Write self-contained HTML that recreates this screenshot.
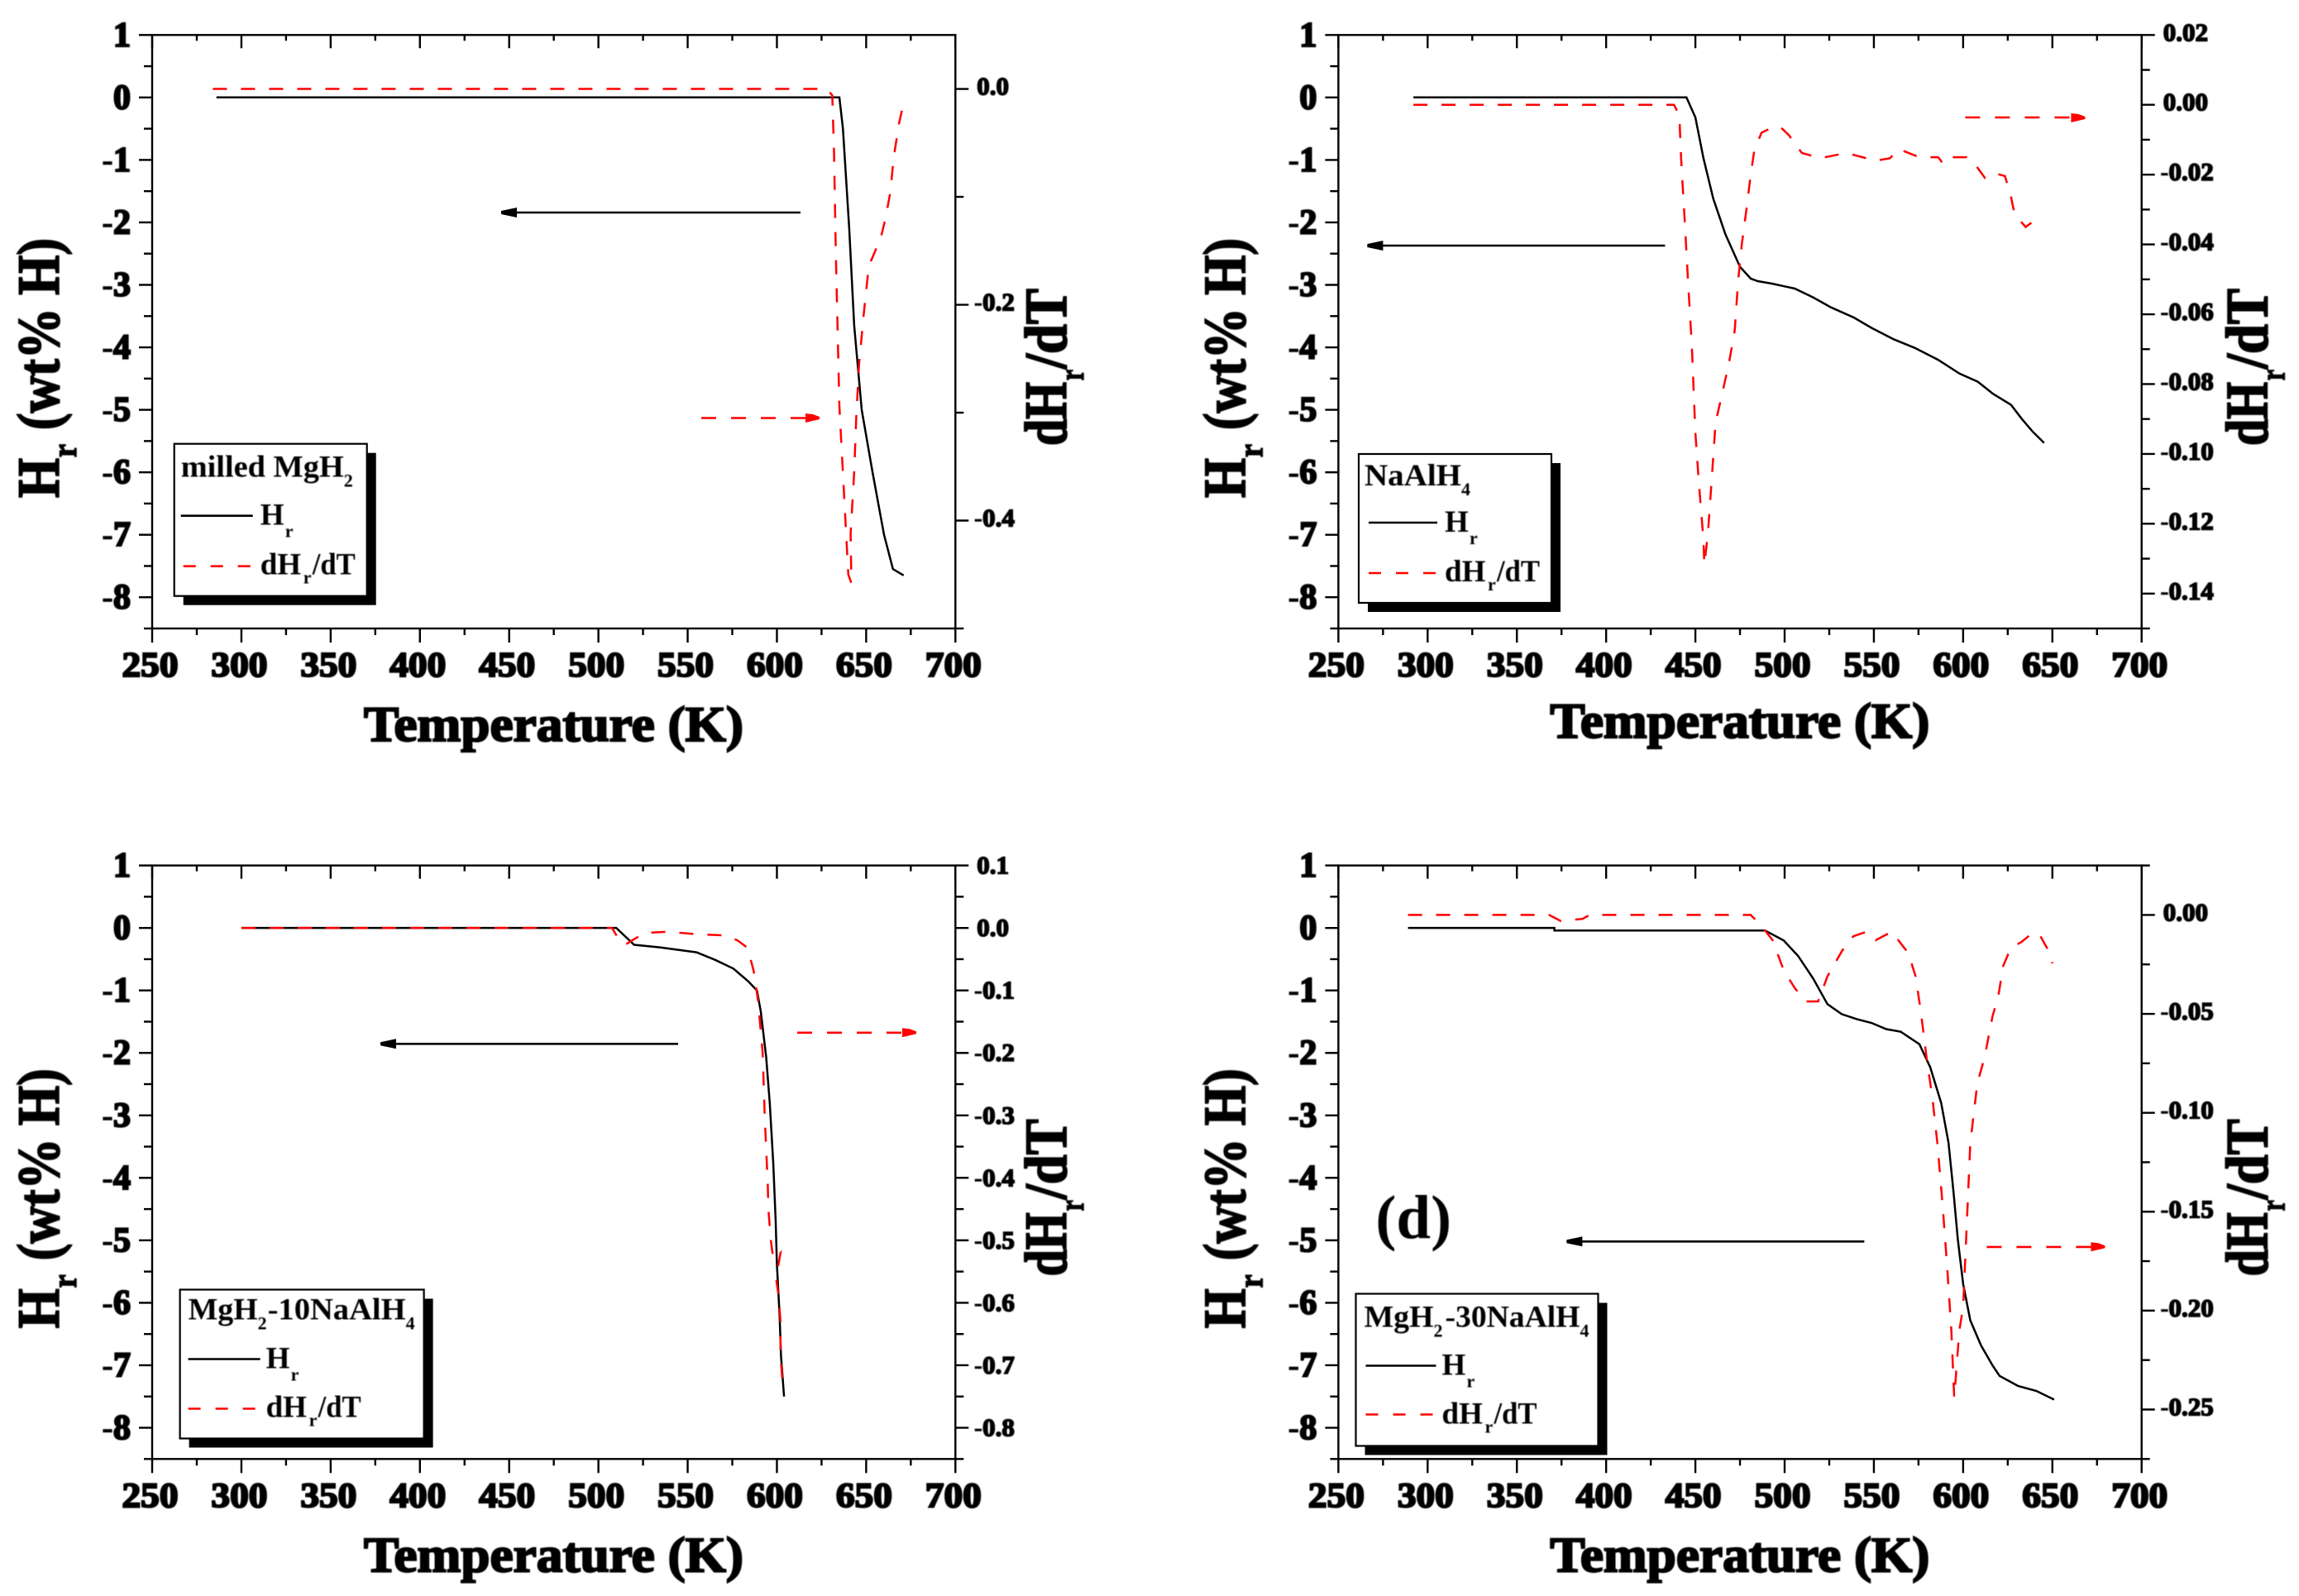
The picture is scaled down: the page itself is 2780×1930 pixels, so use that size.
<!DOCTYPE html>
<html lang="en">
<head>
<meta charset="utf-8">
<title>Hydrogen release curves</title>
<style>
html,body{margin:0;padding:0;background:#fff;}
svg{display:block;font-family:"Liberation Serif",serif;}
text{filter:blur(0.45px);}
.tick-x,.tick-y{font-size:42px;font-weight:bold;stroke:#000;stroke-width:2.2px;}
.tick-r{font-size:31px;font-weight:bold;stroke:#000;stroke-width:1.6px;}
.minus{stroke-width:0.4px;}
.title{font-size:60px;font-weight:bold;stroke:#000;stroke-width:2.2px;}
.title-v{font-size:72px;font-weight:bold;stroke:#000;stroke-width:2px;}
.title-sub{font-size:42px;font-weight:bold;stroke:#000;stroke-width:1.5px;}
.lg{font-size:37px;font-weight:bold;}
.lg-sub{font-size:22px;font-weight:bold;}
.ax{stroke:#000;stroke-width:2.4;fill:none;}
.box{fill:#fff;stroke:#000;stroke-width:2.2;}
.lr{stroke:#f00;stroke-width:2.6;fill:none;}
.lb{stroke:#000;stroke-width:2.6;fill:none;}
</style>
</head>
<body>
<svg id="figure" xmlns="http://www.w3.org/2000/svg" width="2780" height="1930" viewBox="0 0 2780 1930">
<rect width="2780" height="1930" fill="#fff"/>

<g id="panel-a" transform="translate(0,0)">
  <rect class="ax" x="184" y="42.3" width="971.3" height="717.7"/>
  <text class="title" x="440" y="896" textLength="459" lengthAdjust="spacingAndGlyphs">Temperature (K)</text>
  <g transform="translate(71,602) rotate(-90)"><text class="title-v" x="0" y="0" textLength="48" lengthAdjust="spacingAndGlyphs">H</text><text class="title-sub" x="49" y="21" textLength="16" lengthAdjust="spacingAndGlyphs">r</text><text class="title-v" x="82" y="0" textLength="232" lengthAdjust="spacingAndGlyphs">(wt% H)</text></g>
  <g transform="translate(1289,539) rotate(-90)"><text class="title-v" x="0" y="0" textLength="77" lengthAdjust="spacingAndGlyphs">dH</text><text class="title-sub" x="79" y="21" textLength="13" lengthAdjust="spacingAndGlyphs">r</text><text class="title-v" x="93" y="0" textLength="97" lengthAdjust="spacingAndGlyphs">/dT</text></g>
  <g><line class="lb" x1="968" y1="257" x2="606" y2="257"/><polygon points="606,255 625,251 625,263 606,259" fill="#000"/></g>
  <g><line class="lr" x1="848" y1="505.5" x2="990" y2="505.5" stroke-dasharray="18 18"/><polygon points="974,500 983,501 991,504 991,507 974,511" fill="#f00"/></g>
  <g transform="translate(210.7,536.7)">
    <rect x="11" y="11" width="233" height="184" fill="#000"/>
    <rect class="box" x="0" y="0" width="233" height="184"/>
    <text class="lg" x="8" y="40" textLength="197" lengthAdjust="spacingAndGlyphs">milled MgH</text><text class="lg-sub" x="205" y="52">2</text>
    <line class="lb" x1="8" y1="87" x2="95" y2="87"/>
    <text class="lg" x="104" y="98">H</text><text class="lg-sub" x="134" y="113">r</text>
    <line class="lr" x1="11" y1="148" x2="95" y2="148" stroke-dasharray="15 18"/>
    <text class="lg" x="104" y="158">dH</text><text class="lg-sub" x="156" y="169">r</text><text class="lg" x="167" y="158" textLength="52" lengthAdjust="spacingAndGlyphs">/dT</text>
  </g>
</g>

<g id="panel-b" transform="translate(1434.4,0)">
  <rect class="ax" x="184" y="42.3" width="971.3" height="717.7"/>
  <text class="title" x="440" y="892" textLength="459" lengthAdjust="spacingAndGlyphs">Temperature (K)</text>
  <g transform="translate(71,602) rotate(-90)"><text class="title-v" x="0" y="0" textLength="48" lengthAdjust="spacingAndGlyphs">H</text><text class="title-sub" x="49" y="21" textLength="16" lengthAdjust="spacingAndGlyphs">r</text><text class="title-v" x="82" y="0" textLength="232" lengthAdjust="spacingAndGlyphs">(wt% H)</text></g>
  <g transform="translate(1307,539) rotate(-90)"><text class="title-v" x="0" y="0" textLength="77" lengthAdjust="spacingAndGlyphs">dH</text><text class="title-sub" x="79" y="21" textLength="13" lengthAdjust="spacingAndGlyphs">r</text><text class="title-v" x="93" y="0" textLength="97" lengthAdjust="spacingAndGlyphs">/dT</text></g>
  <g><line class="lb" x1="579" y1="297" x2="219" y2="297"/><polygon points="219,295 238,291 238,303 219,299" fill="#000"/></g>
  <g><line class="lr" x1="942" y1="142" x2="1086" y2="142" stroke-dasharray="18 18"/><polygon points="1070,137 1079,138 1087,141 1087,144 1070,148" fill="#f00"/></g>
  <g transform="translate(208.6,549)">
    <rect x="11" y="11" width="233" height="180" fill="#000"/>
    <rect class="box" x="0" y="0" width="233" height="180"/>
    <text class="lg" x="7" y="38" textLength="117" lengthAdjust="spacingAndGlyphs">NaAlH</text><text class="lg-sub" x="124" y="50">4</text>
    <line class="lb" x1="12" y1="83" x2="95" y2="83"/>
    <text class="lg" x="104" y="94">H</text><text class="lg-sub" x="134" y="109">r</text>
    <line class="lr" x1="12" y1="144" x2="95" y2="144" stroke-dasharray="15 18"/>
    <text class="lg" x="104" y="154">dH</text><text class="lg-sub" x="156" y="165">r</text><text class="lg" x="167" y="154" textLength="52" lengthAdjust="spacingAndGlyphs">/dT</text>
  </g>
</g>

<g id="panel-c" transform="translate(0,1004.3)">
  <rect class="ax" x="184" y="42.3" width="971.3" height="717.7"/>
  <text class="title" x="440" y="896" textLength="459" lengthAdjust="spacingAndGlyphs">Temperature (K)</text>
  <g transform="translate(71,602) rotate(-90)"><text class="title-v" x="0" y="0" textLength="48" lengthAdjust="spacingAndGlyphs">H</text><text class="title-sub" x="49" y="21" textLength="16" lengthAdjust="spacingAndGlyphs">r</text><text class="title-v" x="82" y="0" textLength="232" lengthAdjust="spacingAndGlyphs">(wt% H)</text></g>
  <g transform="translate(1289,539) rotate(-90)"><text class="title-v" x="0" y="0" textLength="77" lengthAdjust="spacingAndGlyphs">dH</text><text class="title-sub" x="79" y="21" textLength="13" lengthAdjust="spacingAndGlyphs">r</text><text class="title-v" x="93" y="0" textLength="97" lengthAdjust="spacingAndGlyphs">/dT</text></g>
  <g><line class="lb" x1="820" y1="258" x2="460" y2="258"/><polygon points="460,256 479,252 479,264 460,260" fill="#000"/></g>
  <g><line class="lr" x1="964" y1="244.5" x2="1108" y2="244.5" stroke-dasharray="18 18"/><polygon points="1091,239 1100,240 1108,243 1108,246 1091,250" fill="#f00"/></g>
  <g transform="translate(217.6,555.2)">
    <rect x="11" y="11" width="295" height="180" fill="#000"/>
    <rect class="box" x="0" y="0" width="295" height="180"/>
    <text class="lg" x="10" y="36" textLength="84" lengthAdjust="spacingAndGlyphs">MgH</text><text class="lg-sub" x="94" y="48">2</text><text class="lg" x="106" y="36" textLength="167" lengthAdjust="spacingAndGlyphs">-10NaAlH</text><text class="lg-sub" x="273" y="48">4</text>
    <line class="lb" x1="10" y1="84" x2="97" y2="84"/>
    <text class="lg" x="104" y="95">H</text><text class="lg-sub" x="134" y="110">r</text>
    <line class="lr" x1="10" y1="144" x2="97" y2="144" stroke-dasharray="15 18"/>
    <text class="lg" x="104" y="154">dH</text><text class="lg-sub" x="156" y="165">r</text><text class="lg" x="167" y="154" textLength="52" lengthAdjust="spacingAndGlyphs">/dT</text>
  </g>
</g>

<g id="panel-d" transform="translate(1434.4,1004.3)">
  <rect class="ax" x="184" y="42.3" width="971.3" height="717.7"/>
  <text class="title" x="440" y="896" textLength="459" lengthAdjust="spacingAndGlyphs">Temperature (K)</text>
  <g transform="translate(71,602) rotate(-90)"><text class="title-v" x="0" y="0" textLength="48" lengthAdjust="spacingAndGlyphs">H</text><text class="title-sub" x="49" y="21" textLength="16" lengthAdjust="spacingAndGlyphs">r</text><text class="title-v" x="82" y="0" textLength="232" lengthAdjust="spacingAndGlyphs">(wt% H)</text></g>
  <g transform="translate(1307,539) rotate(-90)"><text class="title-v" x="0" y="0" textLength="77" lengthAdjust="spacingAndGlyphs">dH</text><text class="title-sub" x="79" y="21" textLength="13" lengthAdjust="spacingAndGlyphs">r</text><text class="title-v" x="93" y="0" textLength="97" lengthAdjust="spacingAndGlyphs">/dT</text></g>
  <text x="229" y="493" font-size="75" font-weight="bold" fill="#000">(d)</text>
  <g><line class="lb" x1="820" y1="497" x2="460" y2="497"/><polygon points="460,495 479,491 479,503 460,499" fill="#000"/></g>
  <g><line class="lr" x1="968" y1="503.6" x2="1111" y2="503.6" stroke-dasharray="18 18"/><polygon points="1094,498 1103,499 1111,502 1111,505 1094,509" fill="#f00"/></g>
  <g transform="translate(205.1,560.2)">
    <rect x="11" y="11" width="293" height="184" fill="#000"/>
    <rect class="box" x="0" y="0" width="293" height="184"/>
    <text class="lg" x="10" y="40" textLength="84" lengthAdjust="spacingAndGlyphs">MgH</text><text class="lg-sub" x="94" y="52">2</text><text class="lg" x="108" y="40" textLength="163" lengthAdjust="spacingAndGlyphs">-30NaAlH</text><text class="lg-sub" x="271" y="52">4</text>
    <line class="lb" x1="12" y1="87" x2="97" y2="87"/>
    <text class="lg" x="104" y="98">H</text><text class="lg-sub" x="134" y="113">r</text>
    <line class="lr" x1="12" y1="146" x2="97" y2="146" stroke-dasharray="15 18"/>
    <text class="lg" x="104" y="157">dH</text><text class="lg-sub" x="156" y="168">r</text><text class="lg" x="167" y="157" textLength="52" lengthAdjust="spacingAndGlyphs">/dT</text>
  </g>
</g>
</svg>

<script>
// Shared axis data
const xMajorTicks = [250,300,350,400,450,500,550,600,650,700];
const xMinorTicks = [275,325,375,425,475,525,575,625,675];
const leftMajorTicks = [1,0,-1,-2,-3,-4,-5,-6,-7,-8];
const leftMinorTicks = [0.5,-0.5,-1.5,-2.5,-3.5,-4.5,-5.5,-6.5,-7.5,-8.5];
const xDomain = [250,700];
const leftDomain = [-8.5,1];

// Panel a: milled MgH2
const aRightDomain = [-0.5,0.05];
const aRightMajor = ['0.0','-0.2','-0.4'];
const aRightMinor = [-0.1,-0.3,-0.5];
const aHrT = [286,635,637,640.5,643.3,647.5,653.6,660,665,671];
const aHrV = [0,0,-0.5,-2.1,-3.65,-5.0,-6.0,-7.0,-7.55,-7.65];
const aDhT = [284,628,631,632,633,635,638,640,641.7,641.3,643.3,644.5,646,648.6,651.5,655.6,658.5,661,663.5,665.5,668.4,671];
const aDhV = [0,0,-0.006,-0.058,-0.152,-0.294,-0.388,-0.45,-0.458,-0.412,-0.355,-0.303,-0.256,-0.209,-0.164,-0.148,-0.136,-0.119,-0.096,-0.063,-0.032,-0.013];

// Panel b: NaAlH4
const bRightDomain = [-0.15,0.02];
const bRightMajor = ['0.02','0.00','-0.02','-0.04','-0.06','-0.08','-0.10','-0.12','-0.14'];
const bRightMinor = [0.01,-0.01,-0.03,-0.05,-0.07,-0.09,-0.11,-0.13,-0.15];
const bHrT = [292,445,450,454.5,460,466.8,475,481,485,493,505.7,516,526,538.6,548.8,561,573,586,598,608.2,616.5,626.8,633,639,645.4];
const bHrV = [0,0,-0.32,-0.97,-1.62,-2.19,-2.71,-2.9,-2.94,-2.98,-3.06,-3.2,-3.36,-3.52,-3.69,-3.87,-4.01,-4.2,-4.42,-4.55,-4.74,-4.92,-5.15,-5.35,-5.53];
const bDhT = [292,438,441,442,444,446,448,450,452,454.5,455,457,459,461.3,464.6,468.7,472,474,476,478.6,481,483,487,492.6,497.5,502.4,509.7,520,534.5,551,559,564,575.5,586,589,594,602,606.2,612.3,618.5,623.4,626.7,628.8,635,639];
const bDhV = [0,0,-0.003,-0.0153,-0.0328,-0.0517,-0.069,-0.094,-0.1085,-0.1245,-0.1317,-0.123,-0.1085,-0.091,-0.0837,-0.0742,-0.0648,-0.0502,-0.04,-0.03,-0.02,-0.0131,-0.008,-0.0066,-0.0063,-0.0087,-0.0138,-0.0153,-0.0138,-0.016,-0.0153,-0.0127,-0.015,-0.015,-0.017,-0.015,-0.015,-0.0167,-0.021,-0.0197,-0.0204,-0.026,-0.0313,-0.035,-0.0335];

// Panel c: MgH2-10NaAlH4
const cRightDomain = [-0.85,0.1];
const cRightMajor = ['0.1','0.0','-0.1','-0.2','-0.3','-0.4','-0.5','-0.6','-0.7','-0.8'];
const cRightMinor = [0.05,-0.05,-0.15,-0.25,-0.35,-0.45,-0.55,-0.65,-0.75,-0.85];
const cHrT = [300,510,520,534.4,555,565.3,575.6,583.8,588.8,591,594,596,598,599.3,600,601.5,602.3,604];
const cHrV = [0,0,-0.27,-0.31,-0.39,-0.51,-0.65,-0.85,-1.0,-1.34,-2.07,-2.8,-3.78,-4.67,-5.4,-6.2,-6.85,-7.5];
const cDhT = [300,507.6,511.8,515,520,526,538.6,555,571.6,578,583.6,587,589.5,592,593.2,594.9,595.2,596.6,598,602,599.5,601,602,602,603.5];
const cDhV = [0,0,-0.02,-0.027,-0.018,-0.008,-0.006,-0.01,-0.012,-0.02,-0.032,-0.069,-0.118,-0.2,-0.304,-0.41,-0.45,-0.5,-0.53,-0.52,-0.56,-0.59,-0.63,-0.685,-0.74];

// Panel d: MgH2-30NaAlH4
const dRightDomain = [-0.275,0.025];
const dRightMajor = ['0.00','-0.05','-0.10','-0.15','-0.20','-0.25'];
const dRightMinor = [0.025,-0.025,-0.075,-0.125,-0.175,-0.225,-0.275];
const dHrT = [289,371,371,489,499.5,507.6,516,524,532,540.5,548.7,557,565,575.5,581.6,587.7,591.8,594.7,597,600,604,610,616.4,620.4,630.7,641,651];
const dHrV = [0,0,-0.04,-0.04,-0.2,-0.45,-0.81,-1.22,-1.38,-1.46,-1.52,-1.62,-1.66,-1.86,-2.23,-2.8,-3.44,-4.25,-4.98,-5.7,-6.28,-6.68,-7.0,-7.17,-7.33,-7.41,-7.55];
const dDhT = [289,368,374.5,386.7,390.8,481,487,493.3,499.5,505.7,511.8,518.8,524,532.3,538.5,546,551,560,569.3,573.4,576.3,579.5,582.8,585.6,588.5,591,593.4,595,597.9,600,601.9,604,606,608,612,616.4,619.7,622.5,626.7,632.8,639,643,647,650];
const dDhV = [0,0,-0.003,-0.002,0,0,-0.0056,-0.0128,-0.028,-0.037,-0.0437,-0.0437,-0.031,-0.018,-0.0108,-0.0085,-0.0128,-0.0085,-0.0193,-0.031,-0.0488,-0.072,-0.0925,-0.1156,-0.1464,-0.177,-0.21,-0.244,-0.21,-0.198,-0.159,-0.1156,-0.1,-0.085,-0.072,-0.0514,-0.041,-0.0257,-0.0167,-0.0136,-0.009,-0.0103,-0.0167,-0.0244];

// Plot geometry (shared by every panel, in panel-local pixels)
const plotLeft = 184, plotRight = 1155.3, plotTop = 42.3, plotBottom = 760;
const SVGNS = 'http://www.w3.org/2000/svg';

function xScale(t){ return plotLeft + (t - xDomain[0]) / (xDomain[1] - xDomain[0]) * (plotRight - plotLeft); }
function leftScale(v){ return plotBottom - (v - leftDomain[0]) / (leftDomain[1] - leftDomain[0]) * (plotBottom - plotTop); }
function rightScale(domain){ return function(v){ return plotBottom - (v - domain[0]) / (domain[1] - domain[0]) * (plotBottom - plotTop); }; }

function tickLine(parent, x1, y1, x2, y2){
  const el = document.createElementNS(SVGNS, 'line');
  el.setAttribute('x1', x1); el.setAttribute('y1', y1);
  el.setAttribute('x2', x2); el.setAttribute('y2', y2);
  el.setAttribute('class', 'ax');
  
  
  parent.appendChild(el);
}
function tickText(parent, cls, x, y, anchor, str, fit){
  const el = document.createElementNS(SVGNS, 'text');
  el.setAttribute('class', cls);
  el.setAttribute('x', x); el.setAttribute('y', y);
  el.setAttribute('text-anchor', anchor);
  if (fit) { el.setAttribute('textLength', fit); el.setAttribute('lengthAdjust', 'spacingAndGlyphs'); }
  if (str.charAt(0) === '-') {
    const minus = document.createElementNS(SVGNS, 'tspan');
    minus.setAttribute('class', 'minus');
    minus.textContent = '-';
    el.appendChild(minus);
    el.appendChild(document.createTextNode(str.slice(1)));
  } else {
    el.textContent = str;
  }
  
  
  parent.appendChild(el);
}
function curve(parent, xs, ys, sx, sy, color, width, dash, name){
  const el = document.createElementNS(SVGNS, 'polyline');
  el.setAttribute('points', xs.map(function(t, i){ return sx(t).toFixed(1) + ',' + sy(ys[i]).toFixed(1); }).join(' '));
  el.setAttribute('fill', 'none');
  el.setAttribute('stroke', color);
  el.setAttribute('stroke-width', width);
  if (dash) el.setAttribute('stroke-dasharray', dash);
  
  
  parent.appendChild(el);
}
function drawPanel(id, rightDomain, rightMajor, rightMinor, hrT, hrV, dhT, dhV, rightLabelDy){
  const g = document.getElementById(id);
  const ry = rightScale(rightDomain);
  xMajorTicks.forEach(function(t){
    const x = xScale(t);
    tickLine(g, x, plotBottom, x, plotBottom + 17);
    tickLine(g, x, plotTop, x, plotTop + 16);
    tickText(g, 'tick-x', x - 2.5, plotBottom + 58, 'middle', String(t), 68);
  });
  xMinorTicks.forEach(function(t){
    const x = xScale(t);
    tickLine(g, x, plotBottom, x, plotBottom + 8);
    tickLine(g, x, plotTop, x, plotTop + 7);
  });
  leftMajorTicks.forEach(function(v){
    const y = leftScale(v);
    tickLine(g, plotLeft - 16, y, plotLeft, y);
    tickText(g, 'tick-y', 158, y + 13.5, 'end', String(v));
  });
  leftMinorTicks.forEach(function(v){
    const y = leftScale(v);
    tickLine(g, plotLeft - 10, y, plotLeft, y);
  });
  rightMajor.forEach(function(label){
    const y = ry(parseFloat(label));
    const labelX = plotRight + (label.charAt(0) === '-' ? 22.5 : 26);
    tickLine(g, plotRight, y, plotRight + 16, y);
    tickText(g, 'tick-r', labelX, y + rightLabelDy, 'start', label);
  });
  rightMinor.forEach(function(v){
    const y = ry(v);
    tickLine(g, plotRight, y, plotRight + 10, y);
  });
  curve(g, hrT, hrV, xScale, leftScale, '#000', 2.5, null, 'hr-curve');
  curve(g, dhT, dhV, xScale, ry, '#f00', 2.5, '17 17', 'dhdt-curve');
}
drawPanel('panel-a', aRightDomain, aRightMajor, aRightMinor, aHrT, aHrV, aDhT, aDhV, 7);
drawPanel('panel-b', bRightDomain, bRightMajor, bRightMinor, bHrT, bHrV, bDhT, bDhV, 7);
drawPanel('panel-c', cRightDomain, cRightMajor, cRightMinor, cHrT, cHrV, cDhT, cDhV, 10);
drawPanel('panel-d', dRightDomain, dRightMajor, dRightMinor, dHrT, dHrV, dDhT, dDhV, 7);
</script>
</body>
</html>
